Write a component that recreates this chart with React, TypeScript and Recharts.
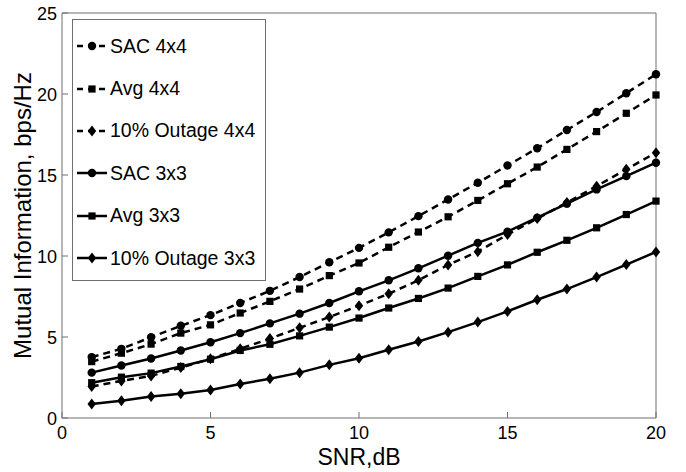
import { LineChart, Line, XAxis, YAxis, ReferenceArea } from 'recharts';

const snr = [1, 2, 3, 4, 5, 6, 7, 8, 9, 10, 11, 12, 13, 14, 15, 16, 17, 18, 19, 20];
const sac4x4 = [3.76, 4.27, 4.99, 5.69, 6.35, 7.1, 7.85, 8.7, 9.61, 10.5, 11.46, 12.46, 13.49, 14.52, 15.59, 16.65, 17.78, 18.89, 20.05, 21.22];
const avg4x4 = [3.48, 4.0, 4.56, 5.24, 5.75, 6.48, 7.2, 7.96, 8.79, 9.57, 10.54, 11.48, 12.42, 13.43, 14.46, 15.49, 16.58, 17.68, 18.81, 19.94];
const outage4x4 = [1.94, 2.29, 2.6, 3.11, 3.65, 4.27, 4.9, 5.57, 6.23, 6.93, 7.67, 8.5, 9.45, 10.27, 11.32, 12.31, 13.3, 14.31, 15.35, 16.38];
const sac3x3 = [2.8, 3.24, 3.67, 4.17, 4.68, 5.24, 5.84, 6.44, 7.1, 7.82, 8.5, 9.24, 10.02, 10.81, 11.5, 12.37, 13.23, 14.11, 14.93, 15.76];
const avg3x3 = [2.18, 2.52, 2.77, 3.18, 3.63, 4.17, 4.55, 5.07, 5.61, 6.17, 6.79, 7.38, 8.02, 8.74, 9.45, 10.23, 10.97, 11.74, 12.56, 13.39];
const outage3x3 = [0.87, 1.07, 1.32, 1.49, 1.73, 2.1, 2.42, 2.8, 3.28, 3.69, 4.21, 4.72, 5.3, 5.92, 6.58, 7.3, 7.96, 8.7, 9.47, 10.25];

const xTicks = [0, 5, 10, 15, 20];
const yTicks = [0, 5, 10, 15, 20, 25];

type Shape = 'circle' | 'square' | 'diamond';

const SERIES: { key: string; name: string; values: number[]; shape: Shape; dashed: boolean }[] = [
    { key: 'sac4', name: 'SAC 4x4', values: sac4x4, shape: 'circle', dashed: true },
    { key: 'avg4', name: 'Avg 4x4', values: avg4x4, shape: 'square', dashed: true },
    { key: 'out4', name: '10% Outage 4x4', values: outage4x4, shape: 'diamond', dashed: true },
    { key: 'sac3', name: 'SAC 3x3', values: sac3x3, shape: 'circle', dashed: false },
    { key: 'avg3', name: 'Avg 3x3', values: avg3x3, shape: 'square', dashed: false },
    { key: 'out3', name: '10% Outage 3x3', values: outage3x3, shape: 'diamond', dashed: false },
];

const FONT = '"Liberation Sans", Arial, Helvetica, sans-serif';
const AXIS = '#6e6e6e';

const chartData = snr.map((x, i) => {
    const row: Record<string, number> = { snr: x };
    SERIES.forEach((s) => {
        row[s.key] = s.values[i];
    });
    return row;
});

function Marker({ shape, cx, cy }: { shape: Shape; cx: number; cy: number }) {
    if (shape === 'circle') return <circle cx={cx} cy={cy} r={4.2} fill="#000" />;
    if (shape === 'square')
        return <rect x={cx - 3.6} y={cy - 3.6} width={7.2} height={7.2} fill="#000" />;
    return (
        <polygon
            points={`${cx},${cy - 5.5} ${cx + 4.2},${cy} ${cx},${cy + 5.5} ${cx - 4.2},${cy}`}
            fill="#000"
        />
    );
}

const BottomTick = (p: any) => (
    <g>
        <line x1={p.x} x2={p.x} y1={p.y} y2={p.y - 6} stroke={AXIS} />
        <text x={p.x} y={p.y + 21} textAnchor="middle" fontSize={18} fontFamily={FONT} fill="#000">
            {p.payload.value}
        </text>
    </g>
);

const LeftTick = (p: any) => (
    <g>
        <line x1={p.x} x2={p.x + 6} y1={p.y} y2={p.y} stroke={AXIS} />
        <text x={p.x - 5} y={p.y + 6.5} textAnchor="end" fontSize={18} fontFamily={FONT} fill="#000">
            {p.payload.value}
        </text>
    </g>
);

const TopTick = (p: any) => <line x1={p.x} x2={p.x} y1={p.y} y2={p.y + 6} stroke={AXIS} />;
const RightTick = (p: any) => <line x1={p.x} x2={p.x - 6} y1={p.y} y2={p.y} stroke={AXIS} />;

function LegendBox() {
    return (
        <div
            style={{
                position: 'absolute',
                left: 72,
                top: 19,
                width: 194,
                height: 262,
                border: `1px solid ${AXIS}`,
                background: '#fff',
                fontFamily: FONT,
                fontSize: 19.5,
                paddingTop: 5,
                boxSizing: 'border-box',
            }}
        >
            {SERIES.map((s) => (
                <div
                    key={s.key}
                    style={{ display: 'flex', alignItems: 'center', height: 42.4, whiteSpace: 'nowrap' }}
                >
                    <svg width={36} height={20} style={{ flex: 'none' }}>
                        <line
                            x1={4}
                            x2={34}
                            y1={10}
                            y2={10}
                            stroke="#000"
                            strokeWidth={2.5}
                            strokeDasharray={s.dashed ? '6 5' : undefined}
                        />
                        <Marker shape={s.shape} cx={19} cy={10} />
                    </svg>
                    <span style={{ marginLeft: 1 }}>{s.name}</span>
                </div>
            ))}
        </div>
    );
}

export default function App() {
    return (
        <div style={{ position: 'absolute', left: 0, top: 0, width: 686, height: 472, background: '#fff' }}>
            <LineChart
                width={686}
                height={472}
                data={chartData}
                margin={{ top: 13, right: 30, bottom: 0, left: 0 }}
            >
                <ReferenceArea x1={0} x2={20} y1={0} y2={25} fill="none" stroke={AXIS} strokeWidth={1} />
                <XAxis
                    dataKey="snr"
                    type="number"
                    domain={[0, 20]}
                    ticks={xTicks}
                    height={54}
                    axisLine={false}
                    tickLine={false}
                    tickSize={0}
                    tickMargin={0}
                    tick={BottomTick}
                    label={{
                        content: (p: any) => (
                            <text
                                x={p.viewBox.x + p.viewBox.width / 2}
                                y={p.viewBox.y + 47}
                                textAnchor="middle"
                                fontSize={23}
                                fontFamily={FONT}
                                fill="#000"
                            >
                                SNR,dB
                            </text>
                        ),
                    }}
                />
                <XAxis
                    xAxisId="top"
                    orientation="top"
                    dataKey="snr"
                    type="number"
                    domain={[0, 20]}
                    ticks={xTicks}
                    height={0}
                    axisLine={false}
                    tickLine={false}
                    tickSize={0}
                    tickMargin={0}
                    tick={TopTick}
                />
                <YAxis
                    type="number"
                    domain={[0, 25]}
                    ticks={yTicks}
                    width={62}
                    axisLine={false}
                    tickLine={false}
                    tickSize={0}
                    tickMargin={0}
                    tick={LeftTick}
                    label={{
                        content: (p: any) => {
                            const cx = p.viewBox.x + 31;
                            const cy = p.viewBox.y + p.viewBox.height / 2;
                            return (
                                <text
                                    x={cx}
                                    y={cy}
                                    transform={`rotate(-90, ${cx}, ${cy})`}
                                    textAnchor="middle"
                                    fontSize={24}
                                    fontFamily={FONT}
                                    fill="#000"
                                >
                                    Mutual Information, bps/Hz
                                </text>
                            );
                        },
                    }}
                />
                <YAxis
                    yAxisId="right"
                    orientation="right"
                    type="number"
                    domain={[0, 25]}
                    ticks={yTicks}
                    width={0}
                    axisLine={false}
                    tickLine={false}
                    tickSize={0}
                    tickMargin={0}
                    tick={RightTick}
                />
                {SERIES.map((s) => (
                    <Line
                        key={s.key}
                        dataKey={s.key}
                        name={s.name}
                        stroke="#000"
                        strokeWidth={2.5}
                        strokeDasharray={s.dashed ? '7 5' : undefined}
                        isAnimationActive={false}
                        dot={(p: any) => (
                            <Marker key={`${s.key}-${p.index}`} shape={s.shape} cx={p.cx} cy={p.cy} />
                        )}
                        activeDot={false}
                    />
                ))}
            </LineChart>
            <LegendBox />
        </div>
    );
}
